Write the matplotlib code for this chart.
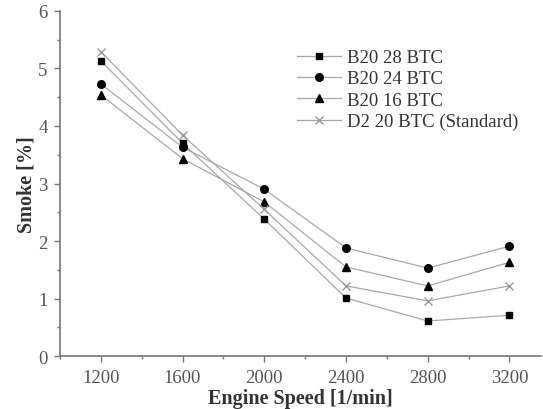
import numpy as np
import matplotlib
matplotlib.use("Agg")
import matplotlib.pyplot as plt
from matplotlib.ticker import MultipleLocator

plt.rcParams['font.family'] = ['Liberation Serif', 'DejaVu Serif']

# Datos
velocidad = [1200, 1600, 2000, 2400, 2800, 3200]
b20_28 = [5.13, 3.70, 2.38, 1.01, 0.61, 0.71]
b20_24 = [4.73, 3.63, 2.90, 1.88, 1.53, 1.91]
b20_16 = [4.54, 3.43, 2.68, 1.55, 1.22, 1.63]
d2_20 = [5.29, 3.84, 2.55, 1.22, 0.96, 1.22]

etiquetas = ['B20 28 BTC', 'B20 24 BTC', 'B20 16 BTC', 'D2 20 BTC (Standard)']

fig = plt.figure(figsize=(5.43, 4.10), dpi=100)
ax = fig.add_axes([0.1105, 0.129, 0.886, 0.842])

gris = '#a8a8a8'
ax.plot(velocidad, b20_28, '-', color=gris, lw=0.9, marker='s', ms=5,
        mfc='black', mec='black', label=etiquetas[0])
ax.plot(velocidad, b20_24, '-', color=gris, lw=0.9, marker='o', ms=5.5,
        mfc='black', mec='black', label=etiquetas[1])
ax.plot(velocidad, b20_16, '-', color=gris, lw=0.9, marker='^', ms=6,
        mfc='black', mec='black', label=etiquetas[2])
ax.plot(velocidad, d2_20, '-', color=gris, lw=0.9, marker='x', ms=6,
        mec='#999999', mew=1.0, label=etiquetas[3])

ax.set_xlim(1000, 3355)
ax.set_ylim(0, 6)
ax.set_xticks(velocidad)
ax.xaxis.set_minor_locator(MultipleLocator(200))
ax.yaxis.set_major_locator(MultipleLocator(1))
ax.yaxis.set_minor_locator(MultipleLocator(0.5))

for lado in ['top', 'right']:
    ax.spines[lado].set_visible(False)
for lado in ['left', 'bottom']:
    ax.spines[lado].set_color('#777777')
    ax.spines[lado].set_linewidth(1.2)

ax.tick_params(which='major', direction='out', length=4, width=1,
               color='#777777', labelsize=13.5, labelcolor='#555555', pad=5)
ax.tick_params(which='minor', direction='out', length=2.5, width=1,
               color='#777777')

ax.set_xlabel('Engine Speed [1/min]', fontsize=14.5, fontweight='bold',
              color='#333333', labelpad=2)
ax.set_ylabel('Smoke [%]', fontsize=14.5, fontweight='bold',
              color='#333333', labelpad=1)

ax.legend(loc='upper left', bbox_to_anchor=(0.478, 0.911), frameon=False,
          fontsize=13.5, handlelength=2.3, handletextpad=0.35,
          labelspacing=0.22, borderaxespad=0, labelcolor='#333333')

fig.savefig('out.png', dpi=100)
